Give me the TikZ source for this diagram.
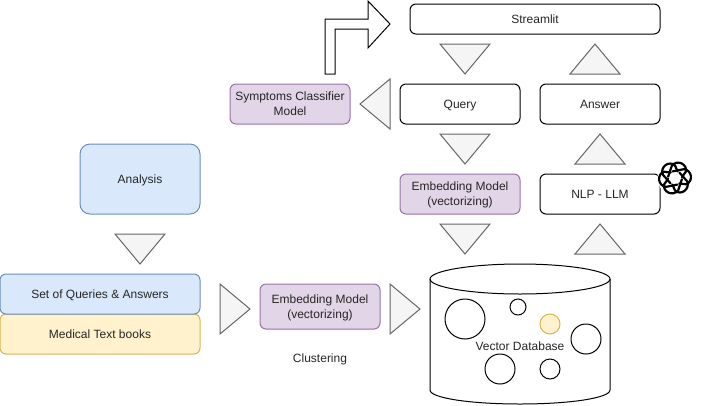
\documentclass[tikz,border=0pt]{standalone}
\usepackage{fontspec}
\setmainfont{Liberation Sans}
\usetikzlibrary{positioning}

\tikzset{
  box/.style={draw=black, fill=white, rounded corners=6pt, line width=1pt, inner sep=0pt,
    align=center, font=\fontsize{12}{15}\selectfont, text=black!85, text depth=0pt},
  purplebox/.style={box, draw=purpleline, fill=purplefill},
  bluebox/.style={box, draw=blueline, fill=bluefill},
  yellowbox/.style={box, draw=yellowline, fill=yellowfill},
  tri/.style={draw=triline, fill=trifill, line width=1pt, line join=miter},
  dot/.style={draw=black, fill=white, line width=1pt},
  caption/.style={inner sep=0pt, font=\fontsize{12}{15}\selectfont, text=black!85, text depth=0pt}
}
\definecolor{purplefill}{HTML}{E1D5E7}
\definecolor{purpleline}{HTML}{9673A6}
\definecolor{bluefill}{HTML}{DAE8FC}
\definecolor{blueline}{HTML}{6C8EBF}
\definecolor{yellowfill}{HTML}{FFF2CC}
\definecolor{yellowline}{HTML}{D6B656}
\definecolor{trifill}{HTML}{F5F5F5}
\definecolor{triline}{HTML}{666666}

\begin{document}
\begin{tikzpicture}[x=1pt,y=-1pt]
  \useasboundingbox (0,0) rectangle (701,405);

  % top column
  \node [box, minimum width=250pt, minimum height=30pt] (streamlit) at (535,19) {Streamlit};
  \node [box, minimum width=120pt, minimum height=40pt] (query) at (460,104) {Query};
  \node [box, minimum width=120pt, minimum height=40pt] (answer) at (600,104) {Answer};
  \node [purplebox, minimum width=120pt, minimum height=40pt] (classifier) at (290,104) {Symptoms Classifier\\Model};
  \node [purplebox, minimum width=120pt, minimum height=40pt] (embedtop) at (460,194) {Embedding Model\\(vectorizing)};
  \node [box, minimum width=120pt, minimum height=40pt] (nlp) at (600,194) {NLP - LLM};

  % left column
  \node [bluebox, rounded corners=10pt, minimum width=120pt, minimum height=70pt] (analysis) at (140,179) {Analysis};
  \node [yellowbox, minimum width=200pt, minimum height=40pt] (books) at (100,334) {Medical Text books};
  \node [bluebox, minimum width=200pt, minimum height=40pt] (queries) at (100,294) {Set of Queries \& Answers};
  \node [purplebox, minimum width=120pt, minimum height=45pt] (embedlow) at (320,306.5) {Embedding Model\\(vectorizing)};
  \node [caption] (clustering) at (320,358) {Clustering};

  % triangles
  \draw [tri] (440,44) -- (490,44) -- (465,74) -- cycle;
  \draw [tri] (570,74) -- (620,74) -- (595,44) -- cycle;
  \draw [tri] (390,79) -- (390,129) -- (360,104) -- cycle;
  \draw [tri] (440,134) -- (490,134) -- (465,164) -- cycle;
  \draw [tri] (575,164) -- (625,164) -- (600,134) -- cycle;
  \draw [tri] (440,224) -- (490,224) -- (465,254) -- cycle;
  \draw [tri] (575,254) -- (625,254) -- (600,224) -- cycle;
  \draw [tri] (115,234) -- (165,234) -- (140,264) -- cycle;
  \draw [tri] (220,284) -- (220,334) -- (250,309) -- cycle;
  \draw [tri] (390,284) -- (390,334) -- (420,309) -- cycle;

  % bent arrow
  \draw [line width=1pt, fill=white] (325,74) -- (325,19) -- (368,19) -- (368,1) -- (390,24)
    -- (368,48) -- (368,29) -- (335,29) -- (335,74) -- cycle;
  \draw [line width=1pt, triline] (325,74) -- (335,74);

  % database
  \draw [line width=1pt, fill=white] (430,279) .. controls (430,271) and (470,264) .. (520,264)
    .. controls (570,264) and (610,271) .. (610,279) -- (610,390)
    .. controls (610,398) and (570,404) .. (520,404)
    .. controls (470,404) and (430,398) .. (430,390) -- cycle;
  \draw [line width=1pt] (430,279) .. controls (430,287) and (470,294) .. (520,294)
    .. controls (570,294) and (610,287) .. (610,279);
  \draw [dot] (465,319) circle (20);
  \draw [dot] (518,307) circle (8);
  \draw [dot, draw=yellowline, fill=yellowfill] (550,324) circle (10);
  \draw [dot] (586,339) circle (15);
  \draw [dot] (500,369) circle (15);
  \draw [dot] (550,369) circle (10);
  \node [caption] (vectordb) at (520,346) {Vector Database};

  % logo
  \fill [white] (675,178) circle (17.5);
  \foreach \ang in {0,60,...,300} {
    \begin{scope}[shift={(675,178)}, rotate=\ang]
      \draw [line width=2.2pt, line cap=round] (-50:7) -- (15:12.5)
        .. controls (35:19) and (72:19) .. (90:12.5) -- (112:7);
    \end{scope}
  }
\end{tikzpicture}
\end{document}
